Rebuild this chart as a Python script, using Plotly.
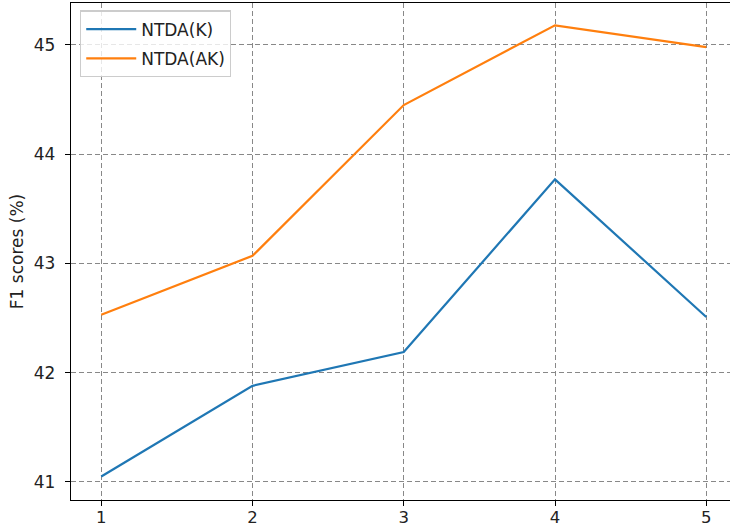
import plotly.graph_objects as go

# F1 scores per setting for the two NTDA variants
settings = [1, 2, 3, 4, 5]
ntda_k = [41.05, 41.88, 42.19, 43.77, 42.51]
ntda_ak = [42.53, 43.07, 44.45, 45.18, 44.98]
y_ticks = [41, 42, 43, 44, 45]

FONT = "DejaVu Sans"
FSIZE = 17

fig = go.Figure()
fig.add_trace(go.Scatter(x=settings, y=ntda_k, mode="lines", name="NTDA(K)",
                         legendgroup="k",
                         line=dict(color="#1f77b4", width=2.2)))
fig.add_trace(go.Scatter(x=settings, y=ntda_ak, mode="lines", name="NTDA(AK)",
                         legendgroup="ak",
                         line=dict(color="#ff7f0e", width=2.2)))

axis_common = dict(
    showgrid=True, gridcolor="#888888", griddash="5px,3px", gridwidth=1.2,
    zeroline=False, ticks="outside", ticklen=5, tickwidth=1.3,
    tickcolor="black", linecolor="black", linewidth=1.4,
    automargin=False,
)

fig.update_xaxes(range=[0.8, 5.157], tickvals=settings, showline=True,
                 mirror=True, ticklabelstandoff=-3,
                 tickfont=dict(family=FONT, size=16.5, color="#222222"),
                 **axis_common)
fig.update_yaxes(range=[40.835, 45.384], tickvals=y_ticks, showline=True,
                 mirror=False, ticklabelstandoff=6,
                 tickfont=dict(family=FONT, size=FSIZE, color="#222222"),
                 title=dict(text="F1 scores (%)",
                            font=dict(family=FONT, size=FSIZE, color="#222222"),
                            standoff=5),
                 **axis_common)

fig.update_layout(
    width=730, height=529,
    margin=dict(l=71, r=0, t=3, b=29),
    paper_bgcolor="white", plot_bgcolor="white",
    font=dict(family=FONT, size=FSIZE, color="#222222"),
    legend=dict(x=0.0137, y=0.985, xanchor="left", yanchor="top",
                bgcolor="rgba(255,255,255,0.8)", bordercolor="#cccccc",
                borderwidth=1.2, font=dict(family=FONT, size=FSIZE),
                itemwidth=50, traceorder="grouped", tracegroupgap=4),
    showlegend=True,
)

fig.write_html("out.html")
